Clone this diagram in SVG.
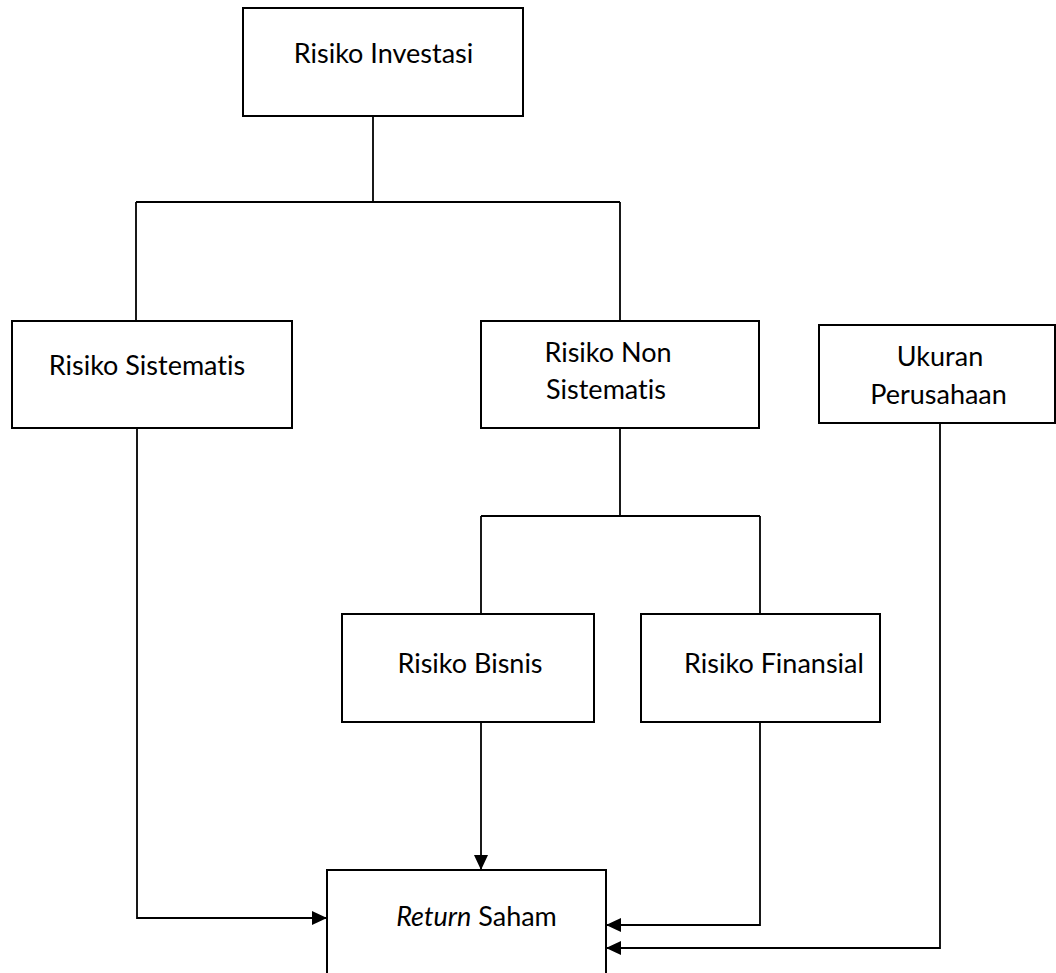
<svg xmlns="http://www.w3.org/2000/svg" width="1056" height="973" viewBox="0 0 1056 973">
<style>
.box{fill:#fff;stroke:#000;stroke-width:2}
.ln{fill:none;stroke:#000;stroke-width:1.8}
text{font-family:Lato,"Open Sans","Liberation Sans",sans-serif;font-size:27px;fill:#000;text-anchor:middle;font-variant-ligatures:none}
</style>
<defs>
<marker id="arr" viewBox="0 0 15 14" refX="15" refY="7" markerWidth="15" markerHeight="14" markerUnits="userSpaceOnUse" orient="auto">
<path d="M0,0 L15,7 L0,14 z" fill="#000"/>
</marker>
</defs>
<rect width="1056" height="973" fill="#fff"/>
<g id="connectors">
<path class="ln" d="M373,116 V202"/>
<path class="ln" d="M136,202 H620"/>
<path class="ln" d="M136,202 V321"/>
<path class="ln" d="M620,202 V321"/>
<path class="ln" d="M620,428 V516"/>
<path class="ln" d="M481,516 H760"/>
<path class="ln" d="M481,516 V614"/>
<path class="ln" d="M760,516 V614"/>
<path class="ln" d="M481,722 V870" marker-end="url(#arr)"/>
<path class="ln" d="M137,428 V918 H327" marker-end="url(#arr)"/>
<path class="ln" d="M760,722 V925 H606" marker-end="url(#arr)"/>
<path class="ln" d="M940,423 V948 H606" marker-end="url(#arr)"/>
</g>
<g id="risiko-investasi">
<rect class="box" x="243" y="8" width="280" height="108"/>
<text x="383.5" y="63">Risiko Investasi</text>
</g>
<g id="risiko-sistematis">
<rect class="box" x="12" y="321" width="280" height="107"/>
<text x="147" y="375">Risiko Sistematis</text>
</g>
<g id="risiko-non-sistematis">
<rect class="box" x="481" y="321" width="278" height="107"/>
<text x="608" y="362">Risiko Non</text>
<text x="606" y="399">Sistematis</text>
</g>
<g id="ukuran-perusahaan">
<rect class="box" x="819" y="325" width="236" height="98"/>
<text x="940" y="366">Ukuran</text>
<text x="938.5" y="404">Perusahaan</text>
</g>
<g id="risiko-bisnis">
<rect class="box" x="342" y="614" width="252" height="108"/>
<text x="470" y="673">Risiko Bisnis</text>
</g>
<g id="risiko-finansial">
<rect class="box" x="641" y="614" width="239" height="108"/>
<text x="774" y="673">Risiko Finansial</text>
</g>
<g id="return-saham">
<rect class="box" x="327" y="870" width="279" height="120"/>
<text x="476.5" y="926"><tspan font-style="italic">Return</tspan> Saham</text>
</g>
</svg>
